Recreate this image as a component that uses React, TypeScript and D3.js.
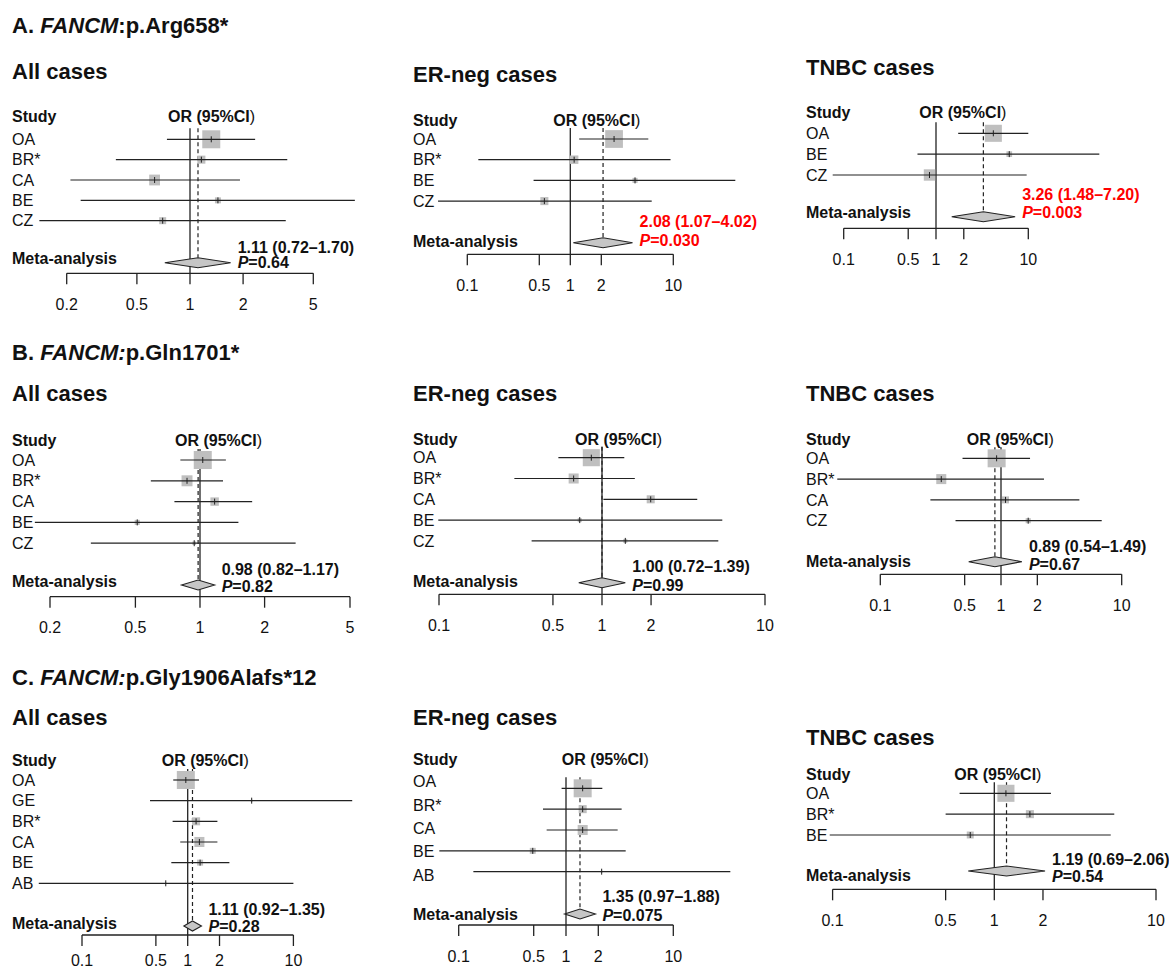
import React from "react";
import * as d3 from "d3";

const FONT = "'Liberation Sans', Arial, Helvetica, sans-serif";

// ---------- tick labels ----------
const ticksAll = [0.2, 0.5, 1, 2, 5];
const ticksSub = [0.1, 0.5, 1, 2, 10];

// ---------- A. FANCM:p.Arg658* ----------
const studiesA_all = ["OA", "BR*", "CA", "BE", "CZ"];
const orA_all = [1.32, 1.16, 0.63, 1.44, 0.7];
const loA_all = [0.74, 0.38, 0.21, 0.24, 0.14];
const hiA_all = [2.34, 3.56, 1.92, 8.6, 3.49];
const wA_all = [100, 20, 36, 11, 15];
const metaA_all = [1.11, 0.72, 1.7];
const pA_all = "0.64";

const studiesA_er = ["OA", "BR*", "BE", "CZ"];
const orA_er = [2.66, 1.09, 4.25, 0.56];
const loA_er = [1.22, 0.128, 0.44, 0.052];
const hiA_er = [5.72, 9.4, 40, 6.17];
const wA_er = [97, 22, 8, 20];
const metaA_er = [2.08, 1.07, 4.02];
const pA_er = "0.030";

const studiesA_tn = ["OA", "BE", "CZ"];
const orA_tn = [4.18, 6.22, 0.85];
const loA_tn = [1.74, 0.63, 0.076];
const hiA_tn = [10.0, 58.8, 9.6];
const wA_tn = [90, 10, 40];
const metaA_tn = [3.26, 1.48, 7.2];
const pA_tn = "0.003";

// ---------- B. FANCM:p.Gln1701* ----------
const studiesB_all = ["OA", "BR*", "CA", "BE", "CZ"];
const orB_all = [1.03, 0.87, 1.17, 0.51, 0.94];
const loB_all = [0.81, 0.59, 0.76, 0.17, 0.31];
const hiB_all = [1.32, 1.28, 1.75, 1.51, 2.79];
const wB_all = [100, 37, 22, 8, 4];
const metaB_all = [0.98, 0.82, 1.17];
const pB_all = "0.82";

const studiesB_er = ["OA", "BR*", "CA", "BE", "CZ"];
const orB_er = [0.86, 0.67, 1.99, 0.73, 1.39];
const loB_er = [0.54, 0.29, 1.02, 0.099, 0.37];
const hiB_er = [1.37, 1.59, 3.84, 5.47, 5.17];
const wB_er = [90, 31, 20, 5, 5];
const metaB_er = [1.0, 0.72, 1.39];
const pB_er = "0.99";

const studiesB_tn = ["OA", "BR*", "CA", "CZ"];
const orB_tn = [0.92, 0.32, 1.09, 1.68];
const loB_tn = [0.48, 0.044, 0.26, 0.42];
const hiB_tn = [1.74, 2.27, 4.46, 6.83];
const wB_tn = [100, 31, 15, 8];
const metaB_tn = [0.89, 0.54, 1.49];
const pB_tn = "0.67";

// ---------- C. FANCM:p.Gly1906Alafs*12 ----------
const studiesC_all = ["OA", "GE", "BR*", "CA", "BE", "AB"];
const orC_all = [0.96, 4.03, 1.2, 1.29, 1.31, 0.62];
const loC_all = [0.73, 0.44, 0.72, 0.85, 0.7, 0.039];
const hiC_all = [1.28, 36, 1.91, 1.91, 2.48, 10.0];
const wC_all = [100, 1.2, 20, 31, 11, 0.7];
const metaC_all = [1.11, 0.92, 1.35];
const pC_all = "0.28";

const studiesC_er = ["OA", "BR*", "CA", "BE", "AB"];
const orC_er = [1.43, 1.43, 1.43, 0.49, 2.15];
const loC_er = [0.91, 0.61, 0.66, 0.066, 0.137];
const hiC_er = [2.18, 3.3, 3.03, 3.6, 34];
const wC_er = [100, 20, 31, 11, 1.2];
const metaC_er = [1.35, 0.97, 1.88];
const pC_er = "0.075";

const studiesC_tn = ["OA", "BR*", "BE"];
const orC_tn = [1.18, 1.66, 0.71];
const loC_tn = [0.61, 0.5, 0.096];
const hiC_tn = [2.24, 5.52, 5.25];
const wC_tn = [90, 20, 15];
const metaC_tn = [1.19, 0.69, 2.06];
const pC_tn = "0.54";

// ---------- section titles ----------
const sections = [
  { letter: "A. ", gene: "FANCM", colonItalic: false, variant: "p.Arg658*", y: 33 },
  { letter: "B. ", gene: "FANCM", colonItalic: true, variant: "p.Gln1701*", y: 360 },
  { letter: "C. ", gene: "FANCM", colonItalic: true, variant: "p.Gly1906Alafs*12", y: 685 },
];

// ---------- panel layout (positions only) ----------
const panels = [
  { title: "All cases", studies: studiesA_all, or: orA_all, lo: loA_all, hi: hiA_all, w: wA_all, meta: metaA_all, p: pA_all, red: false, ticks: ticksAll,
    lx: 12, titleY: 79, headerY: 116.7, orX: 168, rowY0: 139.3, rowStep: 20.35, metaY: 262.7, metaLabelY: 258, estY: 247, pY: 262, axisY: 273.3, range: [66.7, 313.3] },
  { title: "ER-neg cases", studies: studiesA_er, or: orA_er, lo: loA_er, hi: hiA_er, w: wA_er, meta: metaA_er, p: pA_er, red: true, ticks: ticksSub,
    lx: 413, titleY: 82, headerY: 120.7, orX: 553.3, rowY0: 139, rowStep: 20.7, metaY: 242.7, metaLabelY: 241.7, estY: 221.7, pY: 240, axisY: 254.3, range: [467.3, 673.3] },
  { title: "TNBC cases", studies: studiesA_tn, or: orA_tn, lo: loA_tn, hi: hiA_tn, w: wA_tn, meta: metaA_tn, p: pA_tn, red: true, ticks: ticksSub,
    lx: 806, titleY: 75, headerY: 112.7, orX: 919.3, rowY0: 133.3, rowStep: 20.85, metaY: 216.7, metaLabelY: 212.7, estY: 194.3, pY: 212.7, axisY: 228.3, range: [843.7, 1028.3] },
  { title: "All cases", studies: studiesB_all, or: orB_all, lo: loB_all, hi: hiB_all, w: wB_all, meta: metaB_all, p: pB_all, red: false, ticks: ticksAll,
    lx: 12, titleY: 401, headerY: 440, orX: 175, rowY0: 460, rowStep: 20.8, metaY: 585, metaLabelY: 581.7, estY: 569.3, pY: 586.7, axisY: 596.7, range: [50, 350] },
  { title: "ER-neg cases", studies: studiesB_er, or: orB_er, lo: loB_er, hi: hiB_er, w: wB_er, meta: metaB_er, p: pB_er, red: false, ticks: ticksSub,
    lx: 413, titleY: 401, headerY: 439.3, orX: 575, rowY0: 457.7, rowStep: 20.8, metaY: 582.7, metaLabelY: 581.7, estY: 566.7, pY: 585, axisY: 594.3, range: [439, 765] },
  { title: "TNBC cases", studies: studiesB_tn, or: orB_tn, lo: loB_tn, hi: hiB_tn, w: wB_tn, meta: metaB_tn, p: pB_tn, red: false, ticks: ticksSub,
    lx: 806, titleY: 401, headerY: 439.3, orX: 966.7, rowY0: 458.3, rowStep: 20.8, metaY: 561.7, metaLabelY: 561.7, estY: 546.7, pY: 564, axisY: 574.3, range: [880.3, 1121.7] },
  { title: "All cases", studies: studiesC_all, or: orC_all, lo: loC_all, hi: hiC_all, w: wC_all, meta: metaC_all, p: pC_all, red: false, ticks: ticksSub,
    lx: 12, titleY: 725, headerY: 760, orX: 161.7, rowY0: 780, rowStep: 20.66, metaY: 926, metaLabelY: 923.3, estY: 909.3, pY: 926.7, axisY: 935, tickLabelOffset: 25, range: [82, 293.4] },
  { title: "ER-neg cases", studies: studiesC_er, or: orC_er, lo: loC_er, hi: hiC_er, w: wC_er, meta: metaC_er, p: pC_er, red: false, ticks: ticksSub,
    lx: 413, titleY: 725, headerY: 759.3, orX: 561.7, rowY0: 788.3, rowStep: 20.85, labelY0: 781.7, labelStep: 23.3, metaY: 914, metaLabelY: 914, estY: 896.7, pY: 915, axisY: 925, range: [458.7, 673.3] },
  { title: "TNBC cases", studies: studiesC_tn, or: orC_tn, lo: loC_tn, hi: hiC_tn, w: wC_tn, meta: metaC_tn, p: pC_tn, red: false, ticks: ticksSub,
    lx: 806, titleY: 745, headerY: 774.3, orX: 954.3, rowY0: 793.3, rowStep: 20.85, metaY: 871, metaLabelY: 875, estY: 859.3, pY: 876.7, axisY: 889.3, range: [832.6, 1156] },
];

const LINE = "#222";
const BOX = "#bfbfbf";
const DIAMOND = "#c6c6c6";
const FS = 16;
const CAP = 5.6; // baseline offset for cap-centred text

function Panel({ p }: { p: any }) {
  const x = d3
    .scaleLog()
    .domain([p.ticks[0], p.ticks[p.ticks.length - 1]])
    .range(p.range);
  const side = d3.scaleSqrt().domain([0, 100]).range([0, 18]);
  const rowY = (i: number) => p.rowY0 + i * p.rowStep;
  const labY = (i: number) =>
    p.labelY0 !== undefined ? p.labelY0 + i * p.labelStep : rowY(i);
  const lineTop = p.rowY0 - 11;
  const [est, mlo, mhi] = p.meta;
  const dh = 5;
  const color = p.red ? "#ff0000" : "#111";
  const estText = `${est.toFixed(2)} (${mlo.toFixed(2)}\u2013${mhi.toFixed(2)})`;
  const tlo = p.tickLabelOffset !== undefined ? p.tickLabelOffset : 31;
  const diamond = [
    [x(mlo), p.metaY],
    [x(est), p.metaY - dh],
    [x(mhi), p.metaY],
    [x(est), p.metaY + dh],
  ];
  return (
    <g fontFamily={FONT}>
      <text x={p.lx} y={p.titleY} fontSize={22} fontWeight="bold" fill="#111">
        {p.title}
      </text>
      <text x={p.lx} y={p.headerY + CAP} fontSize={FS} fontWeight="bold" fill="#111">
        Study
      </text>
      <text x={p.orX} y={p.headerY + CAP} fontSize={FS} fontWeight="bold" fill="#111">
        OR (95%CI<tspan fontWeight="normal">)</tspan>
      </text>
      {p.studies.map((s: string, i: number) => (
        <text key={"l" + i} x={p.lx} y={labY(i) + CAP} fontSize={FS} fill="#111">
          {s}
        </text>
      ))}
      {/* reference lines */}
      <line x1={x(1)} x2={x(1)} y1={lineTop} y2={p.axisY} stroke={LINE} strokeWidth={1.3} />
      <line
        x1={x(est)}
        x2={x(est)}
        y1={lineTop}
        y2={p.metaY - dh}
        stroke={LINE}
        strokeWidth={1.2}
        strokeDasharray="4,3"
      />
      {/* boxes */}
      {p.studies.map((s: string, i: number) => {
        const sz = side(p.w[i]);
        return (
          <rect
            key={"b" + i}
            x={x(p.or[i]) - sz / 2}
            y={rowY(i) - sz / 2}
            width={sz}
            height={sz}
            fill={BOX}
          />
        );
      })}
      {/* CI lines */}
      {p.studies.map((s: string, i: number) => (
        <g key={"c" + i}>
          <line x1={x(p.lo[i])} x2={x(p.hi[i])} y1={rowY(i)} y2={rowY(i)} stroke={LINE} strokeWidth={1.2} />
          <line x1={x(p.or[i])} x2={x(p.or[i])} y1={rowY(i) - 3} y2={rowY(i) + 3} stroke={LINE} strokeWidth={1} />
        </g>
      ))}
      {/* meta */}
      <text x={p.lx} y={p.metaLabelY + CAP} fontSize={FS} fontWeight="bold" fill="#111">
        Meta-analysis
      </text>
      <polygon points={diamond.map((d) => d.join(",")).join(" ")} fill={DIAMOND} stroke={LINE} strokeWidth={1.1} />
      <text x={x(mhi) + 7} y={p.estY + CAP} fontSize={FS} fontWeight="bold" fill={color}>
        {estText}
      </text>
      <text x={x(mhi) + 7} y={p.pY + CAP} fontSize={FS} fontWeight="bold" fill={color}>
        <tspan fontStyle="italic">P</tspan>={p.p}
      </text>
      {/* axis */}
      <line x1={p.range[0]} x2={p.range[1]} y1={p.axisY} y2={p.axisY} stroke={LINE} strokeWidth={1.3} />
      {p.ticks.map((t: number) => (
        <g key={"t" + t}>
          <line x1={x(t)} x2={x(t)} y1={p.axisY} y2={p.axisY + 11} stroke={LINE} strokeWidth={1.3} />
          <text x={x(t)} y={p.axisY + tlo + CAP} fontSize={FS} textAnchor="middle" fill="#111">
            {String(t)}
          </text>
        </g>
      ))}
    </g>
  );
}

export default function App() {
  return (
    <svg
      width={1169}
      height={973}
      style={{ position: "absolute", left: 0, top: 0, background: "#fff" }}
    >
      <rect width={1169} height={973} fill="#fff" />
      {sections.map((s, i) => (
        <text key={i} x={12} y={s.y} fontFamily={FONT} fontSize={22} fontWeight="bold" fill="#111">
          {s.letter}
          <tspan fontStyle="italic">{s.gene + (s.colonItalic ? ":" : "")}</tspan>
          {(s.colonItalic ? "" : ":") + s.variant}
        </text>
      ))}
      {panels.map((p, i) => (
        <Panel key={i} p={p} />
      ))}
    </svg>
  );
}
